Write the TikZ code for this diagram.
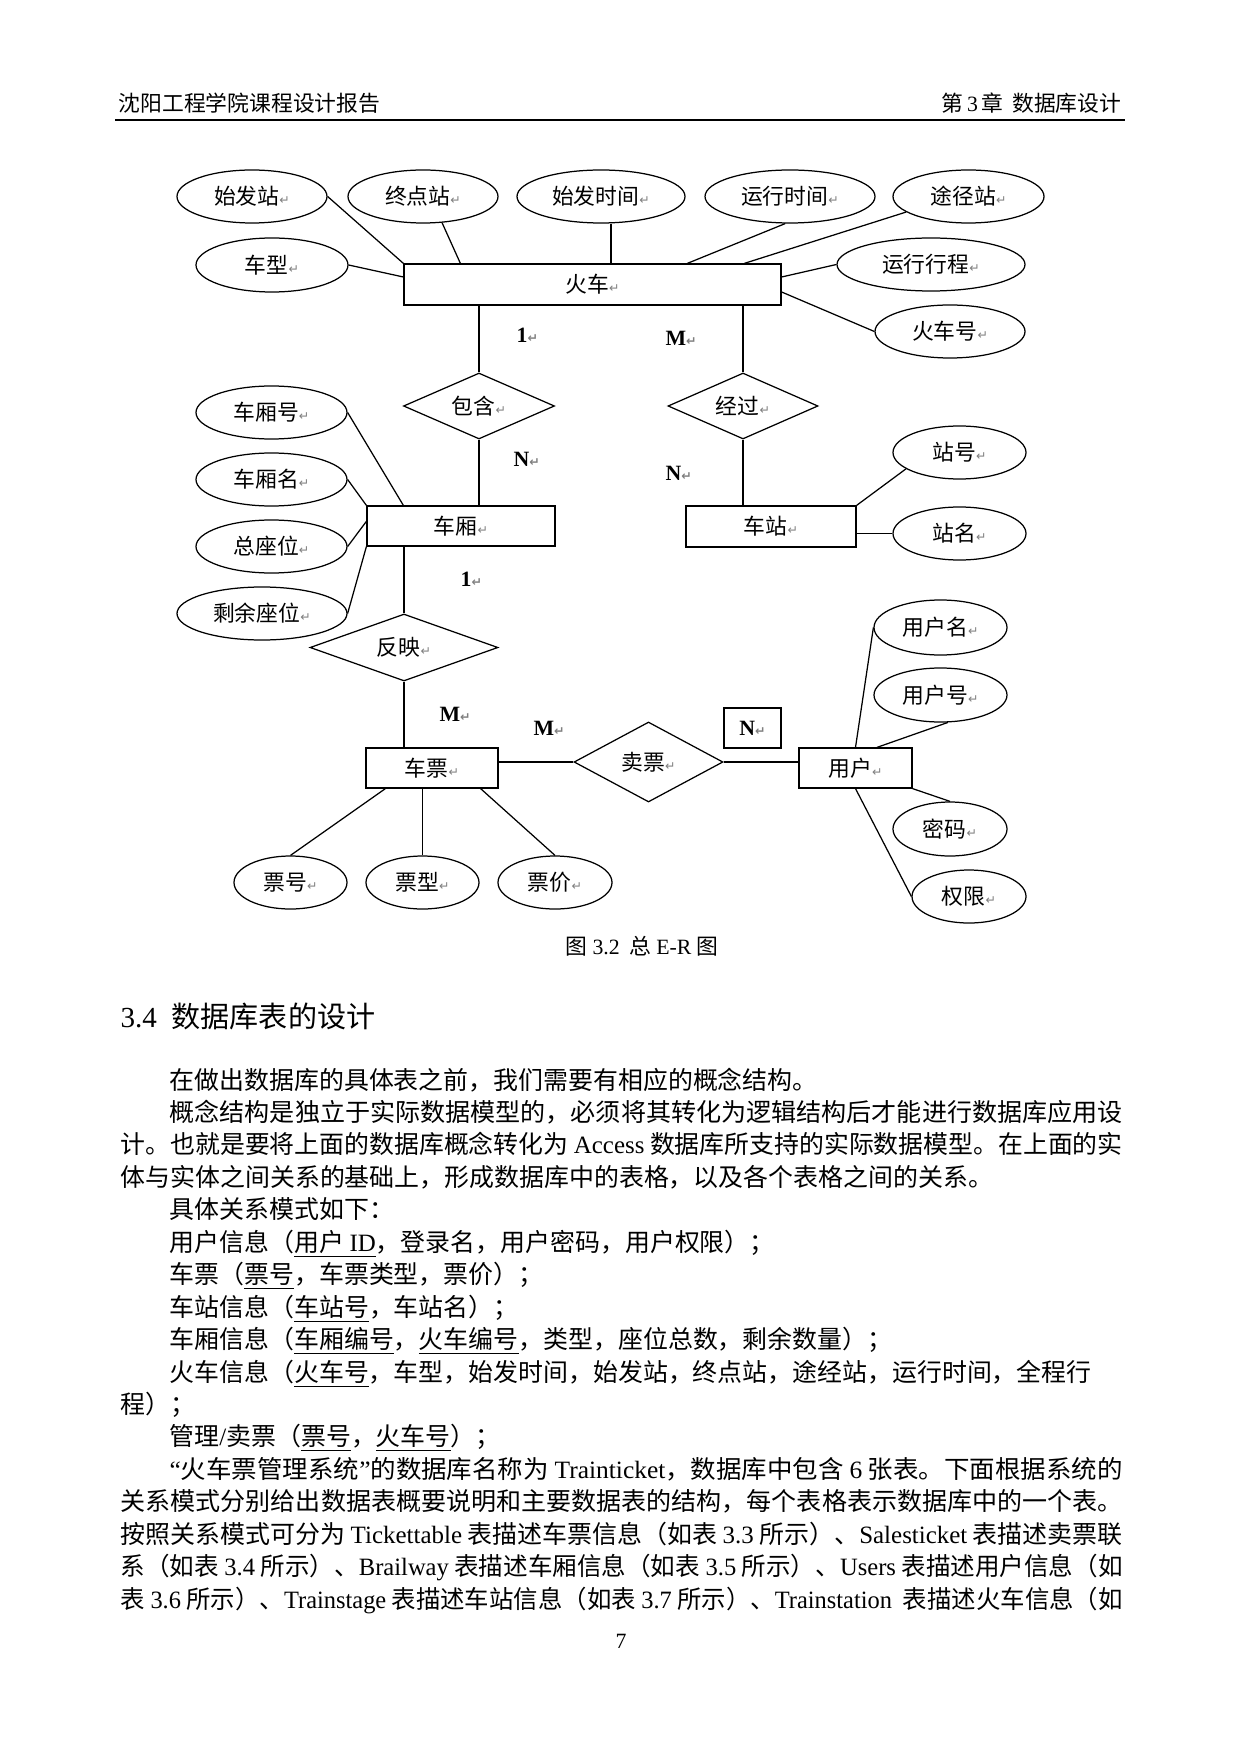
\documentclass[tikz,border=0pt]{standalone}
\usepackage{fontspec}
\usepackage{graphicx}
\usetikzlibrary{shapes.geometric}
\setmainfont{Noto Sans CJK SC}
\newfontfamily\tnr{Liberation Serif}
\newfontfamily\arrf{DejaVu Sans}
\newcommand\latn[1]{{\tnr #1}}
\newcommand\pxu{0.16922mm}
\newcommand\retm{{\color{gray}\arrf\fontsize{6pt}{6pt}\selectfont\symbol{"21B5}}}
\newcommand\dgf{\fontsize{10.5pt}{12pt}\selectfont}
\newcommand\bodyf{\fontsize{12pt}{14pt}\selectfont}
\tikzset{
  ent/.style={draw, rectangle, inner sep=0pt, font=\dgf},
  attr/.style={draw, ellipse, inner sep=0pt, font=\dgf},
  rel/.style={draw, diamond, inner sep=0pt, font=\dgf},
  card/.style={anchor=west, inner sep=0pt, font=\tnr\bfseries\dgf},
  bodyl/.style={anchor=base west, inner sep=0pt, font=\bodyf},
}
\begin{document}
\begin{tikzpicture}[x=0.16922mm, y=-0.16922mm, line width=0.6pt]
\fill[white] (0,0) rectangle (1241,1754);
\path[use as bounding box] (0,0) rectangle (1241,1754);

% header
\node[anchor=base west, inner sep=0pt, font=\dgf] (hl) at (118,112) {沈阳工程学院课程设计报告};
\node[anchor=base east, inner sep=0pt, font=\dgf] (hr) at (1122,112) {第\,\latn{3}\,章\hspace{1.5mm}数据库设计};
\coordinate (rl) at (115,120);
\coordinate (rr) at (1125,120);
\draw[line width=1pt] (rl) -- (rr);

% entities
\node[ent, minimum width=377*\pxu, minimum height=41*\pxu] (train) at (592.5,284.5) {火车\retm};
\node[ent, minimum width=188*\pxu, minimum height=40*\pxu] (car) at (461,526) {车厢\retm};
\node[ent, minimum width=170*\pxu, minimum height=41*\pxu] (station) at (771,526.5) {车站\retm};
\node[ent, minimum width=132*\pxu, minimum height=40*\pxu] (ticket) at (432,768) {车票\retm};
\node[ent, minimum width=113*\pxu, minimum height=40*\pxu] (user) at (855.5,768) {用户\retm};
\node[ent, minimum width=57*\pxu, minimum height=40*\pxu, font=\tnr\bfseries\dgf] (nbox) at (752.5,728) {N\retm};

% relationships
\node[rel, minimum width=151*\pxu, minimum height=66*\pxu, shape aspect=2.3] (contain) at (479,406) {包含\retm};
\node[rel, minimum width=150*\pxu, minimum height=66*\pxu, shape aspect=2.3] (pass) at (743,406) {经过\retm};
\node[rel, minimum width=188*\pxu, minimum height=67*\pxu, shape aspect=2.8] (reflect) at (404,647.5) {反映\retm};
\node[rel, minimum width=149*\pxu, minimum height=80*\pxu, shape aspect=1.86] (sell) at (648.5,762) {卖票\retm};

% attributes of train
\node[attr, minimum width=150*\pxu, minimum height=53*\pxu] (a1) at (252,196.5) {始发站\retm};
\node[attr, minimum width=150*\pxu, minimum height=53*\pxu] (a2) at (423,196.5) {终点站\retm};
\node[attr, minimum width=168*\pxu, minimum height=53*\pxu] (a3) at (601,196.5) {始发时间\retm};
\node[attr, minimum width=170*\pxu, minimum height=53*\pxu] (a4) at (790,196.5) {运行时间\retm};
\node[attr, minimum width=151*\pxu, minimum height=53*\pxu] (a5) at (968.5,196.5) {途径站\retm};
\node[attr, minimum width=152*\pxu, minimum height=54*\pxu] (a6) at (272,265) {车型\retm};
\node[attr, minimum width=188*\pxu, minimum height=53*\pxu] (a7) at (931,264.5) {运行行程\retm};
\node[attr, minimum width=150*\pxu, minimum height=53*\pxu] (a8) at (950,331.5) {火车号\retm};

% attributes of car
\node[attr, minimum width=151*\pxu, minimum height=53*\pxu] (c1) at (271.5,412.5) {车厢号\retm};
\node[attr, minimum width=151*\pxu, minimum height=53*\pxu] (c2) at (271.5,479.5) {车厢名\retm};
\node[attr, minimum width=151*\pxu, minimum height=53*\pxu] (c3) at (271.5,546.5) {总座位\retm};
\node[attr, minimum width=170*\pxu, minimum height=53*\pxu] (c4) at (262,613.5) {剩余座位\retm};

% attributes of station
\node[attr, minimum width=133*\pxu, minimum height=53*\pxu] (s1) at (959.5,452.5) {站号\retm};
\node[attr, minimum width=133*\pxu, minimum height=53*\pxu] (s2) at (959.5,533.5) {站名\retm};

% attributes of user
\node[attr, minimum width=133*\pxu, minimum height=55*\pxu] (u1) at (940.5,627.5) {用户名\retm};
\node[attr, minimum width=133*\pxu, minimum height=54*\pxu] (u2) at (940.5,695) {用户号\retm};
\node[attr, minimum width=114*\pxu, minimum height=54*\pxu] (u3) at (950,829) {密码\retm};
\node[attr, minimum width=114*\pxu, minimum height=53*\pxu] (u4) at (969,896.5) {权限\retm};

% attributes of ticket
\node[attr, minimum width=113*\pxu, minimum height=53*\pxu] (t1) at (290.5,882.5) {票号\retm};
\node[attr, minimum width=113*\pxu, minimum height=53*\pxu] (t2) at (422.5,882.5) {票型\retm};
\node[attr, minimum width=114*\pxu, minimum height=53*\pxu] (t3) at (555,882.5) {票价\retm};

% connectors: train
\draw (a1.east) -- (train.north west);
\draw (a2.-54) -- ([xshift=57*\pxu]train.north west);
\coordinate (p3) at ([xshift=10*\pxu]a3.south);
\draw (p3) -- (p3 |- train.north);
\draw (a4.-100) -- ([xshift=284*\pxu]train.north west);
\draw (a5.194) -- ([xshift=341*\pxu]train.north west);
\draw (a6.east) -- ([yshift=7.5*\pxu]train.west);
\draw (a7.west) -- ([yshift=7.5*\pxu]train.east);
\draw (a8.west) -- ([yshift=-7.5*\pxu]train.east);

% relationships links
\draw (contain.north) -- (contain.north |- train.south);
\draw (pass.north) -- (pass.north |- train.south);
\draw (contain.south) -- (contain.south |- car.north);
\draw (pass.south) -- (pass.south |- station.north);
\draw (reflect.north) -- (reflect.north |- car.south);
\draw (reflect.south) -- (reflect.south |- ticket.north);
\draw (sell.west) -- (sell.west -| ticket.east);
\draw (sell.east) -- (sell.east -| user.west);

% car attributes
\draw (c1.east) -- ([xshift=37*\pxu]car.north west);
\draw (c2.east) -- (car.north west);
\draw (c3.east) -- ([yshift=-16*\pxu]car.north west);
\draw (c4.east) -- (car.south west);

% ticket attributes
\draw (t1.north) -- ([xshift=20*\pxu]ticket.south west);
\draw (t2.north) -- (t2.north |- ticket.south);
\draw (t3.north) -- ([xshift=-18*\pxu]ticket.south east);

% station attributes
\draw (s1.197) -- (station.north east);
\draw (s2.west) -- (s2.west -| station.east);

% user attributes
\draw (u1.west) -- (user.north);
\draw (u2.-75) -- ([xshift=21.5*\pxu]user.north);
\draw (u3.north) -- (user.south east);
\draw (u4.west) -- (user.south);

% cardinalities
\node[card] (k1) at (516,335) {1\retm};
\node[card] (k2) at (665,338) {M\retm};
\node[card] (k3) at (513,459) {N\retm};
\node[card] (k4) at (665,473) {N\retm};
\node[card] (k5) at (460,579) {1\retm};
\node[card] (k6) at (439,714) {M\retm};
\node[card] (k7) at (533,728) {M\retm};

% caption
\node[inner sep=0pt, font=\dgf] (cap) at (642,946) {图\ \latn{3.2}\ \ 总\ \latn{E-R}\ 图};

% heading
\node[anchor=base west, inner sep=0pt, font=\fontsize{14pt}{16pt}\selectfont] (h34) at (120,1027) {\latn{3.4}\hspace{2.5mm}数据库表的设计};

% body
\node[bodyl] (l0) at (169,1089) {在做出数据库的具体表之前，我们需要有相应的概念结构。};
\node[bodyl] (l1) at (169,1121.4) {\resizebox{161.27mm}{\height}{概念结构是独立于实际数据模型的，必须将其转化为逻辑结构后才能进行数据库应用设}};
\node[bodyl] (l2) at (120,1153.9) {\resizebox{169.56mm}{\height}{计。也就是要将上面的数据库概念转化为 \latn{Access} 数据库所支持的实际数据模型。在上面的实}};
\node[bodyl] (l3) at (120,1186.3) {体与实体之间关系的基础上，形成数据库中的表格，以及各个表格之间的关系。};
\node[bodyl] (l4) at (169,1218.8) {具体关系模式如下：};
\node[bodyl] (l5) at (169,1251.2) {用户信息（\underline{用户 \latn{ID}}，登录名，用户密码，用户权限）；};
\node[bodyl] (l6) at (169,1283.6) {车票（\underline{票号}，车票类型，票价）；};
\node[bodyl] (l7) at (169,1316.1) {车站信息（\underline{车站号}，车站名）；};
\node[bodyl] (l8) at (169,1348.5) {车厢信息（\underline{车厢编号}，\underline{火车编号}，类型，座位总数，剩余数量）；};
\node[bodyl] (l9) at (169,1381) {\resizebox{156.02mm}{\height}{火车信息（\underline{火车号}，车型，始发时间，始发站，终点站，途经站，运行时间，全程行}};
\node[bodyl] (l10) at (120,1413.4) {程）；};
\node[bodyl] (l11) at (169,1445.8) {管理\latn{/}卖票（\underline{票号}，\underline{火车号}）；};
\node[bodyl] (l12) at (169,1478.3) {\resizebox{161.27mm}{\height}{\latn{“}火车票管理系统\latn{”}的数据库名称为 \latn{Trainticket}，数据库中包含 \latn{6} 张表。下面根据系统的}};
\node[bodyl] (l13) at (120,1510.7) {\resizebox{169.56mm}{\height}{关系模式分别给出数据表概要说明和主要数据表的结构，每个表格表示数据库中的一个表。}};
\node[bodyl] (l14) at (120,1543.2) {\resizebox{169.56mm}{\height}{按照关系模式可分为 \latn{Tickettable} 表描述车票信息（如表 \latn{3.3} 所示）、\latn{Salesticket} 表描述卖票联}};
\node[bodyl] (l15) at (120,1575.6) {\resizebox{169.56mm}{\height}{系（如表 \latn{3.4} 所示）、\latn{Brailway} 表描述车厢信息（如表 \latn{3.5} 所示）、\latn{Users} 表描述用户信息（如}};
\node[bodyl] (l16) at (120,1608) {\resizebox{169.56mm}{\height}{表 \latn{3.6} 所示）、\latn{Trainstage} 表描述车站信息（如表 \latn{3.7} 所示）、\latn{Trainstation}\ \ 表描述火车信息（如}};

% page number
\node[inner sep=0pt, font=\tnr\dgf] (pg) at (621,1641) {7};
\end{tikzpicture}
\end{document}
